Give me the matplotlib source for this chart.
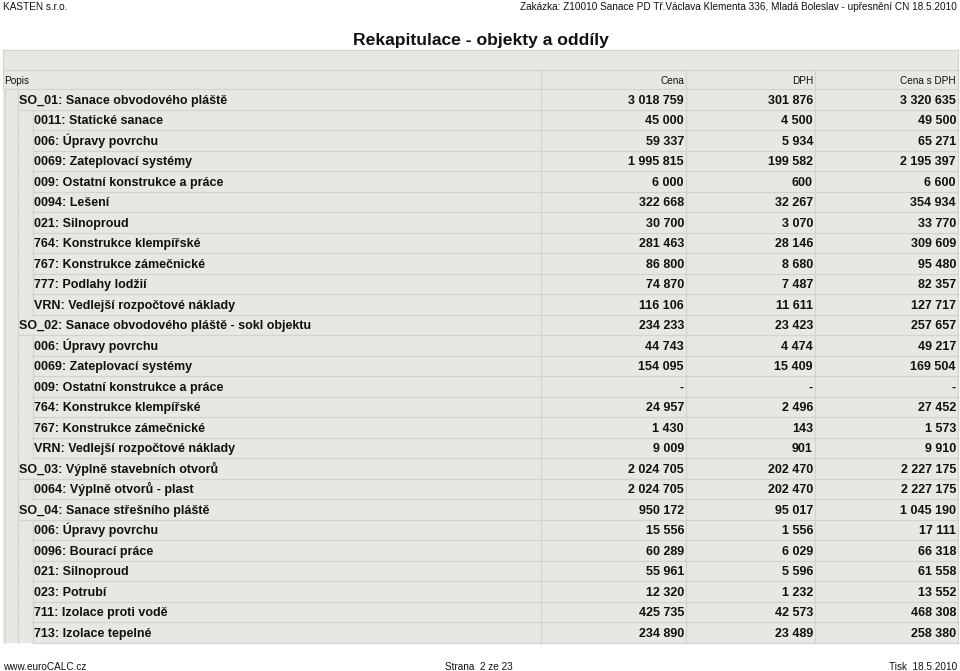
import matplotlib
matplotlib.use("Agg")
import matplotlib.pyplot as plt
from matplotlib.patches import Rectangle

plt.rcParams['font.family'] = ['Liberation Sans', 'DejaVu Sans']

company = "KASTEN s.r.o."
order_text = "Zakázka: Z10010 Sanace PD Tř.Václava Klementa 336, Mladá Boleslav - upřesnění CN 18.5.2010"
title = "Rekapitulace - objekty a oddíly"
col_headers = ["Popis", "Cena", "DPH", "Cena s DPH"]
footer_left = "www.euroCALC.cz"
footer_mid = "Strana  2 ze 23"
footer_right = "Tisk  18.5.2010"

levels = [0, 1, 1, 1, 1, 1, 1, 1, 1, 1, 1,
          0, 1, 1, 1, 1, 1, 1,
          0, 1,
          0, 1, 1, 1, 1, 1, 1]
labels = [
    "SO_01: Sanace obvodového pláště",
    "0011: Statické sanace",
    "006: Úpravy povrchu",
    "0069: Zateplovací systémy",
    "009: Ostatní konstrukce a práce",
    "0094: Lešení",
    "021: Silnoproud",
    "764: Konstrukce klempířské",
    "767: Konstrukce zámečnické",
    "777: Podlahy lodžií",
    "VRN: Vedlejší rozpočtové náklady",
    "SO_02: Sanace obvodového pláště - sokl objektu",
    "006: Úpravy povrchu",
    "0069: Zateplovací systémy",
    "009: Ostatní konstrukce a práce",
    "764: Konstrukce klempířské",
    "767: Konstrukce zámečnické",
    "VRN: Vedlejší rozpočtové náklady",
    "SO_03: Výplně stavebních otvorů",
    "0064: Výplně otvorů - plast",
    "SO_04: Sanace střešního pláště",
    "006: Úpravy povrchu",
    "0096: Bourací práce",
    "021: Silnoproud",
    "023: Potrubí",
    "711: Izolace proti vodě",
    "713: Izolace tepelné",
]
cena = [3018759, 45000, 59337, 1995815, 6000, 322668, 30700, 281463, 86800, 74870, 116106,
        234233, 44743, 154095, None, 24957, 1430, 9009,
        2024705, 2024705,
        950172, 15556, 60289, 55961, 12320, 425735, 234890]
dph = [301876, 4500, 5934, 199582, 600, 32267, 3070, 28146, 8680, 7487, 11611,
       23423, 4474, 15409, None, 2496, 143, 901,
       202470, 202470,
       95017, 1556, 6029, 5596, 1232, 42573, 23489]
cena_s_dph = [3320635, 49500, 65271, 2195397, 6600, 354934, 33770, 309609, 95480, 82357, 127717,
              257657, 49217, 169504, None, 27452, 1573, 9910,
              2227175, 2227175,
              1045190, 17111, 66318, 61558, 13552, 468308, 258380]


def fmt(v):
    if v is None:
        return "-"
    return f"{v:,}".replace(",", " ")


fig = plt.figure(figsize=(9.6, 6.71), dpi=100)
ax = fig.add_axes([0, 0, 1, 1])
ax.set_xlim(0, 960)
ax.set_ylim(671, 0)
ax.axis('off')

FILL = '#e9e7e3'
GRID = '#d5d3cf'
TXT = '#111111'

left, right = 3, 958
indent_x = [18, 33]
col_x = [541, 686, 815, right]
h_top = 50
h_mid = 70
h_bot = 89
row_h = 20.5
n = len(labels)
bottom = h_bot + n * row_h

# table background
ax.add_patch(Rectangle((left, h_top), right - left, bottom - h_top, facecolor=FILL, edgecolor='none'))

lw = 0.9
for y in (h_top, h_mid, h_bot):
    ax.plot([left, right], [y, y], color=GRID, lw=lw)
ax.plot([left, left], [h_top, h_bot], color=GRID, lw=lw)
ax.plot([right, right], [h_top, bottom], color=GRID, lw=lw)
for cx in col_x[:-1]:
    ax.plot([cx, cx], [h_mid, bottom], color=GRID, lw=lw)
ax.plot([5, 5], [h_bot, bottom], color=GRID, lw=lw)

for i in range(n):
    y0 = h_bot + i * row_h
    y1 = y0 + row_h
    lx = indent_x[levels[i]]
    ax.plot([lx, right], [y1, y1], color=GRID, lw=lw)
    ax.plot([lx, lx], [y0, y1], color=GRID, lw=lw)
    if levels[i] == 1:
        ax.plot([indent_x[0], indent_x[0]], [y0, y1], color=GRID, lw=lw)
    yb = y0 + 14.8
    ax.text(lx + 1, yb, labels[i], fontsize=9, fontweight='bold', color=TXT, ha='left', va='baseline')
    for cx, vals in zip(col_x[1:], (cena, dph, cena_s_dph)):
        ax.text(cx - 2, yb, fmt(vals[i]), fontsize=9, fontweight='bold', color=TXT, ha='right', va='baseline')

hy = 83.5
ax.text(left + 1, hy, col_headers[0], fontsize=7.2, color=TXT, ha='left', va='baseline')
for cx, h in zip(col_x[1:], col_headers[1:]):
    ax.text(cx - 2, hy, h, fontsize=7.2, color=TXT, ha='right', va='baseline')

ax.text(3, 10.3, company, fontsize=7.2, color=TXT, ha='left', va='baseline')
ax.text(957, 10.3, order_text, fontsize=7.2, color=TXT, ha='right', va='baseline')
ax.text(480.5, 45, title, fontsize=12.6, fontweight='bold', color=TXT, ha='center', va='baseline')
ax.text(3, 669.5, footer_left, fontsize=7.2, color=TXT, ha='left', va='baseline')
ax.text(445, 669.5, footer_mid, fontsize=7.2, color=TXT, ha='left', va='baseline')
ax.text(957, 669.5, footer_right, fontsize=7.2, color=TXT, ha='right', va='baseline')

fig.savefig("out.png", dpi=100)
